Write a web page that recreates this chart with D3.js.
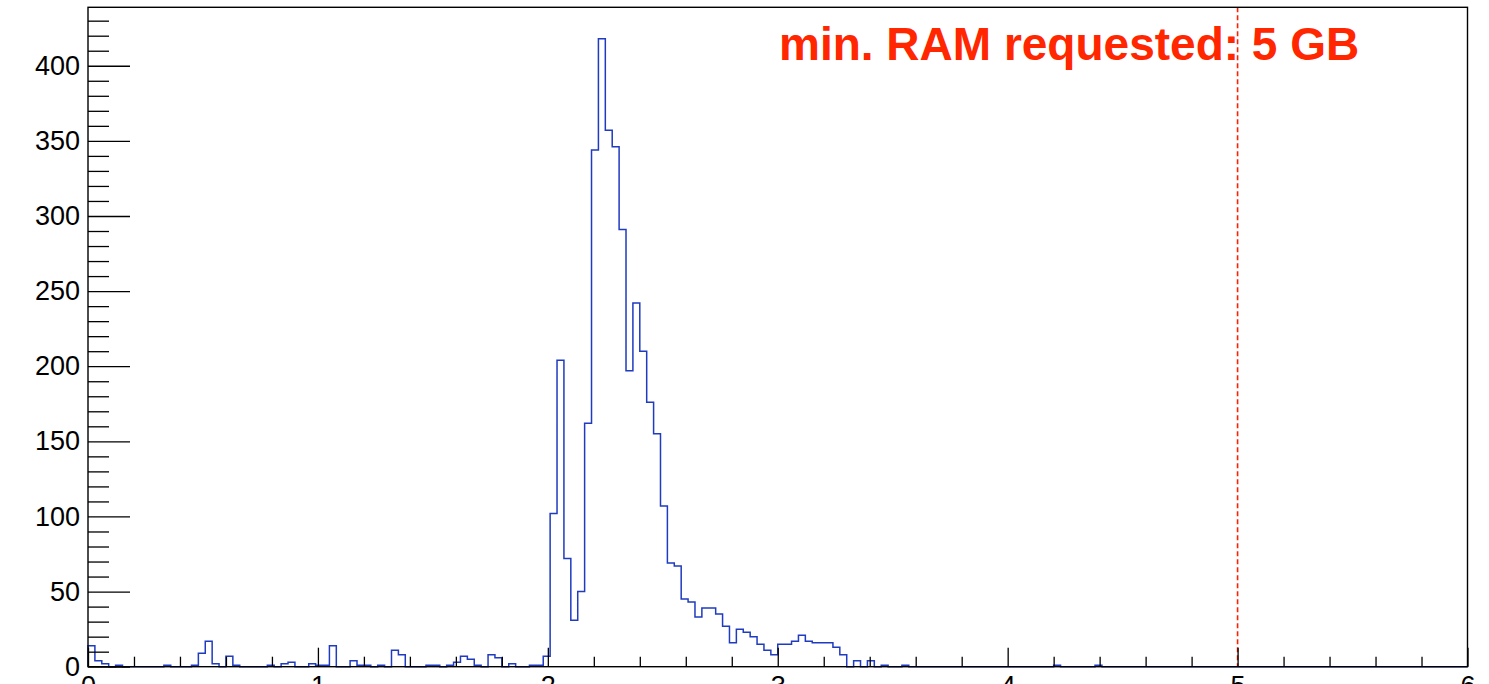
<!DOCTYPE html>
<html>
<head>
<meta charset="utf-8">
<script src="https://cdn.jsdelivr.net/npm/d3@7"></script>
<style>
  body { margin: 0; background: #fff; }
  svg { display: block; }
</style>
</head>
<body>
<script>
// histogram: 200 bins of 0.03 GB from 0 to 6
var binLow = 0, binWidth = 0.03;
var counts = [
    14, 4, 2, 0, 1, 0, 0, 0, 0, 0,
    0, 1, 0, 0, 0, 1, 9, 17, 2, 0,
    7, 1, 0, 0, 0, 0, 1, 0, 2, 3,
    0, 0, 2, 1, 1, 14, 0, 0, 4, 1,
    1, 0, 1, 0, 11, 8, 0, 0, 0, 1,
    1, 0, 1, 3, 7, 5, 1, 0, 8, 6,
    0, 2, 0, 0, 1, 1, 7, 102, 204, 72,
    31, 50, 162, 344, 418, 357, 346, 291, 197, 242,
    210, 176, 155, 107, 69, 67, 45, 43, 33, 39,
    39, 35, 27, 16, 25, 23, 20, 15, 11, 8,
    15, 15, 17, 21, 17, 16, 16, 16, 13, 8,
    0, 4, 0, 4, 0, 1, 0, 0, 1, 0,
    0, 0, 0, 0, 0, 0, 0, 0, 0, 0,
    0, 0, 0, 0, 0, 0, 0, 0, 0, 0,
    1, 0, 0, 0, 0, 0, 1, 0, 0, 0,
    0, 0, 0, 0, 0, 0, 0, 0, 0, 0,
    0, 0, 0, 0, 0, 0, 0, 0, 0, 0,
    0, 0, 0, 0, 0, 0, 0, 0, 0, 0,
    0, 0, 0, 0, 0, 0, 0, 0, 0, 0,
    0, 0, 0, 0, 0, 0, 0, 0, 0, 0
];

var xMajor = [0, 1, 2, 3, 4, 5, 6];
var xMinor = [0.2, 0.4, 0.6, 0.8, 1.2, 1.4, 1.6, 1.8, 2.2, 2.4, 2.6, 2.8,
              3.2, 3.4, 3.6, 3.8, 4.2, 4.4, 4.6, 4.8, 5.2, 5.4, 5.6, 5.8];
var yMajor = [0, 50, 100, 150, 200, 250, 300, 350, 400];
var yMinor = [10, 20, 30, 40, 60, 70, 80, 90, 110, 120, 130, 140, 160, 170, 180, 190,
              210, 220, 230, 240, 260, 270, 280, 290, 310, 320, 330, 340, 360, 370, 380, 390,
              410, 420, 430];

var ramLimit = 5;
var ramLabel = "min. RAM requested: 5 GB";

var canvas = d3.select("body")
    .append("svg")
    .attr("width", 1489)
    .attr("height", 684);

var padL = 88, padR = 1467.5, padT = 7.3, padB = 666.7;

var x = d3.scaleLinear()
    .domain([0, 6])
    .range([padL, padR]);

// ROOT puts the maximum at 1.05 * highest bin
var y = d3.scaleLinear()
    .domain([0, d3.max(counts) * 1.05])
    .range([padB, padT]);

// step outline of the histogram
var pts = [{x: binLow, y: 0}];
counts.forEach(function (c, i) {
    pts.push({x: binLow + i * binWidth, y: c});
    pts.push({x: binLow + (i + 1) * binWidth, y: c});
});
pts.push({x: binLow + counts.length * binWidth, y: 0});

var line = d3.line()
    .x(function (d) { return x(d.x); })
    .y(function (d) { return y(d.y); });

canvas.append("path")
    .datum(pts)
    .attr("d", line)
    .attr("fill", "none")
    .attr("stroke", "#1f3bbf")
    .attr("stroke-width", 1.5);

// red dashed line at the requested RAM
canvas.append("line")
    .attr("x1", x(ramLimit))
    .attr("x2", x(ramLimit))
    .attr("y1", padT)
    .attr("y2", padB)
    .attr("stroke", "#ff2000")
    .attr("stroke-width", 1.6)
    .style("stroke-dasharray", "5,3");

canvas.append("text")
    .attr("x", 779)
    .attr("y", 60)
    .attr("fill", "#ff2600")
    .style("font-family", "'Liberation Sans', Arial, sans-serif")
    .style("font-weight", "bold")
    .style("font-size", "46px")
    .text(ramLabel);

// axes
function styleAxis(g) {
    g.select(".domain").remove();
    g.selectAll("line").attr("stroke", "#000").attr("stroke-width", 1.3);
    g.selectAll("text")
        .attr("fill", "#000")
        .style("font-family", "'Liberation Sans', Arial, sans-serif")
        .style("font-size", "27px");
}

canvas.append("g")
    .attr("transform", "translate(0," + padB + ")")
    .call(d3.axisBottom(x).tickValues(xMinor).tickSize(-10).tickFormat(""))
    .call(styleAxis);

canvas.append("g")
    .attr("transform", "translate(0," + padB + ")")
    .call(d3.axisBottom(x).tickValues(xMajor).tickSize(-19).tickPadding(9).tickFormat(d3.format("d")))
    .call(styleAxis);

canvas.append("g")
    .attr("transform", "translate(" + padL + ",0)")
    .call(d3.axisLeft(y).tickValues(yMinor).tickSize(-21).tickFormat(""))
    .call(styleAxis);

canvas.append("g")
    .attr("transform", "translate(" + padL + ",0)")
    .call(d3.axisLeft(y).tickValues(yMajor).tickSize(-42).tickPadding(8).tickFormat(d3.format("d")))
    .call(styleAxis);

// frame
canvas.append("rect")
    .attr("x", padL)
    .attr("y", padT)
    .attr("width", padR - padL)
    .attr("height", padB - padT)
    .attr("fill", "none")
    .attr("stroke", "#000")
    .attr("stroke-width", 1.4);
</script>
</body>
</html>
